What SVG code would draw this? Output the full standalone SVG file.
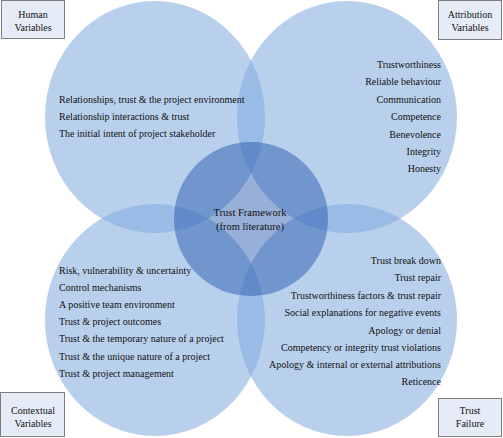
<svg xmlns="http://www.w3.org/2000/svg" width="503" height="438" viewBox="0 0 503 438">
<style>
.outer{fill:rgb(128,170,222);fill-opacity:0.55;stroke:none}
.core{fill:rgb(26,79,166);fill-opacity:0.45;stroke:none}
.box{fill:#E5ECF7;stroke:#7F7F7F;stroke-width:1}
text{font-family:"Liberation Serif","Times New Roman",serif;font-size:10px;fill:#111}
.c{text-anchor:middle}
.r{text-anchor:end}
.ctr{font-size:10.5px}
</style>
<rect width="503" height="438" fill="#fff"/>
<g id="human-circle"><ellipse class="outer" cx="155" cy="117" rx="110" ry="116"/></g>
<g id="attribution-circle"><ellipse class="outer" cx="347" cy="117" rx="110" ry="116"/></g>
<g id="contextual-circle"><ellipse class="outer" cx="155" cy="320" rx="110" ry="116"/></g>
<g id="failure-circle"><ellipse class="outer" cx="347" cy="320" rx="110" ry="116"/></g>
<g id="core">
<circle class="core" cx="251" cy="219" r="77"/>
<text class="c ctr" x="250" y="215.5">Trust Framework</text>
<text class="c ctr" x="250" y="229.5">(from literature)</text>
</g>
<g id="human-items">
<text x="59" y="102.5">Relationships, trust &amp; the project environment</text>
<text x="59" y="119.5">Relationship interactions &amp; trust</text>
<text x="59" y="136.5">The initial intent of project stakeholder</text>
</g>
<g id="attribution-items">
<text class="r" x="441" y="67.5">Trustworthiness</text>
<text class="r" x="441" y="84.5">Reliable behaviour</text>
<text class="r" x="441" y="102.5">Communication</text>
<text class="r" x="441" y="119.5">Competence</text>
<text class="r" x="441" y="137.5">Benevolence</text>
<text class="r" x="441" y="154.5">Integrity</text>
<text class="r" x="441" y="171.5">Honesty</text>
</g>
<g id="contextual-items">
<text x="59" y="273.5">Risk, vulnerability &amp; uncertainty</text>
<text x="59" y="290.5">Control mechanisms</text>
<text x="59" y="307.5">A positive team environment</text>
<text x="59" y="324.5">Trust &amp; project outcomes</text>
<text x="59" y="341.5">Trust &amp; the temporary nature of a project</text>
<text x="59" y="359.5">Trust &amp; the unique nature of a project</text>
<text x="59" y="376.5">Trust &amp; project management</text>
</g>
<g id="failure-items">
<text class="r" x="441" y="263.5">Trust break down</text>
<text class="r" x="441" y="280.5">Trust repair</text>
<text class="r" x="441" y="298.5">Trustworthiness factors &amp; trust repair</text>
<text class="r" x="441" y="315.5">Social explanations for negative events</text>
<text class="r" x="441" y="333.5">Apology or denial</text>
<text class="r" x="441" y="350.5">Competency or integrity trust violations</text>
<text class="r" x="441" y="367.5">Apology &amp; internal or external attributions</text>
<text class="r" x="441" y="384.5">Reticence</text>
</g>
<g id="human-label">
<rect class="box" x="1.5" y="0.5" width="63" height="38"/>
<text class="c" x="33" y="17.5">Human</text>
<text class="c" x="33" y="30.5">Variables</text>
</g>
<g id="attribution-label">
<rect class="box" x="438.5" y="0.5" width="63" height="39"/>
<text class="c" x="470" y="17.5">Attribution</text>
<text class="c" x="470" y="30.5">Variables</text>
</g>
<g id="contextual-label">
<rect class="box" x="0.5" y="392.5" width="64" height="44"/>
<text class="c" x="33" y="413.5">Contextual</text>
<text class="c" x="33" y="426.5">Variables</text>
</g>
<g id="failure-label">
<rect class="box" x="438.5" y="398.5" width="63" height="38"/>
<text class="c" x="470" y="413.5">Trust</text>
<text class="c" x="470" y="426.5">Failure</text>
</g>
<g id="connectors"/>
</svg>
